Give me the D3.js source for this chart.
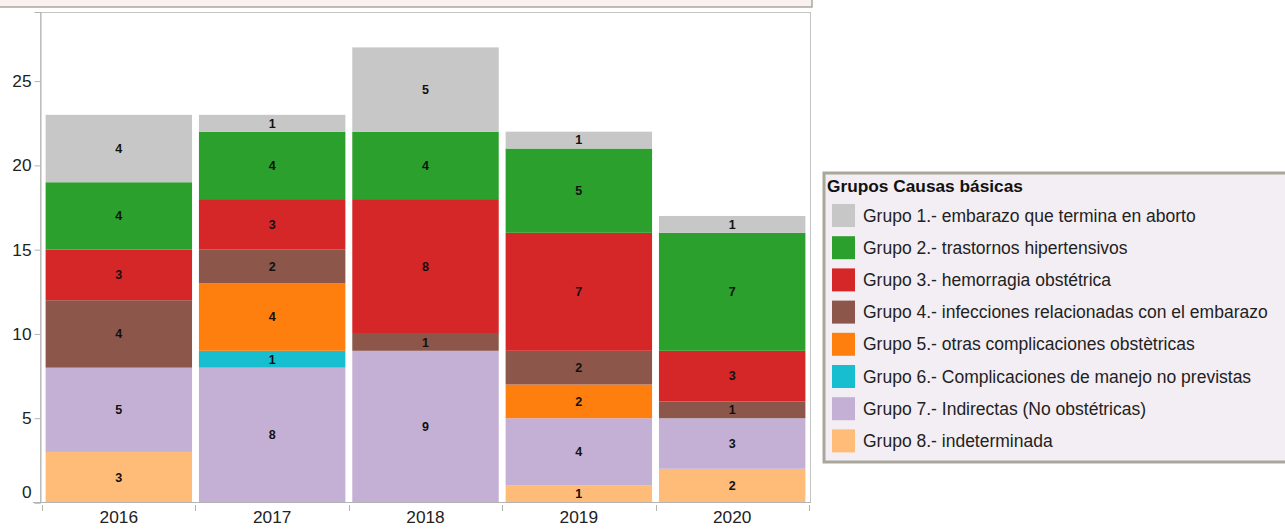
<!DOCTYPE html>
<html>
<head>
<meta charset="utf-8">
<script src="https://cdn.jsdelivr.net/npm/d3@7"></script>
<style>
  body { margin: 0; background: #fff; }
  text { font-family: "Liberation Sans", Arial, sans-serif; }
</style>
</head>
<body>
<div id="chart"></div>
<script>
// data
var years = ["2016", "2017", "2018", "2019", "2020"];
var groups = [
  "Grupo 1.- embarazo que termina en aborto",
  "Grupo 2.- trastornos hipertensivos",
  "Grupo 3.- hemorragia obstétrica",
  "Grupo 4.- infecciones relacionadas con el embarazo",
  "Grupo 5.- otras complicaciones obstètricas",
  "Grupo 6.- Complicaciones de manejo no previstas",
  "Grupo 7.- Indirectas (No obstétricas)",
  "Grupo 8.- indeterminada"
];
var colors = ["#c7c7c7", "#2ca02c", "#d62728", "#8c564b", "#ff7f0e", "#17becf", "#c5b0d5", "#ffbb78"];
// counts per group (same order as groups), one value per year
var g1 = [4, 1, 5, 1, 1];
var g2 = [4, 4, 4, 5, 7];
var g3 = [3, 3, 8, 7, 3];
var g4 = [4, 2, 1, 2, 1];
var g5 = [0, 4, 0, 2, 0];
var g6 = [0, 1, 0, 0, 0];
var g7 = [5, 8, 9, 4, 3];
var g8 = [3, 0, 0, 1, 2];
var yTicks = [0, 5, 10, 15, 20, 25];

var series = [g1, g2, g3, g4, g5, g6, g7, g8];

// build rows for d3.stack
var rows = years.map(function(y, i) {
  var r = {year: y};
  groups.forEach(function(g, k) { r[g] = series[k][i]; });
  return r;
});

// bottom of the stack is group 8
var stackKeys = groups.slice().reverse();
var stacked = d3.stack().keys(stackKeys)(rows);

var color = d3.scaleOrdinal().domain(groups).range(colors);

var svg = d3.select("#chart").append("svg")
  .attr("width", 1285)
  .attr("height", 530);

// top strip
svg.append("rect")
  .attr("x", -2).attr("y", -2)
  .attr("width", 814).attr("height", 9)
  .attr("fill", "#fbf0f0")
  .attr("stroke", "#a9a79c")
  .attr("stroke-width", 1.5);

var x = d3.scaleBand()
  .domain(years)
  .range([41, 810])
  .paddingInner(0.045)
  .paddingOuter(0.03);

var y = d3.scaleLinear()
  .domain([0, 29.1])
  .range([502.5, 12]);

// plot frame
svg.append("rect")
  .attr("x", 40.5).attr("y", 12.5)
  .attr("width", 770).attr("height", 490)
  .attr("fill", "none")
  .attr("stroke", "#c4c4c4");

// bars
var layer = svg.append("g").selectAll("g")
  .data(stacked)
  .enter().append("g")
    .attr("fill", function(d) { return color(d.key); });

layer.selectAll("rect")
  .data(function(d) { return d; })
  .enter().append("rect")
    .attr("x", function(d) { return x(d.data.year); })
    .attr("y", function(d) { return y(d[1]); })
    .attr("width", x.bandwidth())
    .attr("height", function(d) { return y(d[0]) - y(d[1]); });

// segment labels
layer.selectAll("text")
  .data(function(d) { return d.filter(function(s) { return s[1] - s[0] > 0; }); })
  .enter().append("text")
    .attr("x", function(d) { return x(d.data.year) + x.bandwidth() / 2; })
    .attr("y", function(d) { return y((d[0] + d[1]) / 2); })
    .attr("dy", "0.35em")
    .attr("text-anchor", "middle")
    .attr("font-size", "12.5px")
    .attr("font-weight", "bold")
    .attr("fill", "#111")
    .text(function(d) { return d[1] - d[0]; });

// y axis
var yAxis = svg.append("g")
  .attr("transform", "translate(40.5,0)")
  .call(d3.axisLeft(y).tickValues(yTicks).tickSize(6).tickPadding(3));
yAxis.select(".domain").attr("stroke", "#b4b4b4");
yAxis.selectAll(".tick line").attr("stroke", "#b4b4b4");
yAxis.selectAll(".tick text")
  .attr("font-size", "17.3px")
  .attr("font-family", "Liberation Sans, Arial, sans-serif")
  .attr("fill", "#222")
  .attr("dy", function(d) { return d === 0 ? "-0.3em" : "0.32em"; });

// x axis
var xAxis = svg.append("g")
  .attr("transform", "translate(0,502.5)")
  .call(d3.axisBottom(x).tickSize(0).tickPadding(8));
xAxis.select(".domain").attr("stroke", "#b4b4b4").attr("d", "M33,0H811");
xAxis.selectAll(".tick text")
  .attr("font-size", "17.3px")
  .attr("font-family", "Liberation Sans, Arial, sans-serif")
  .attr("fill", "#222");

// category boundary ticks
var half = (x.step() - x.bandwidth()) / 2;
var bounds = years.map(function(d) { return x(d) - half; });
bounds.push(x(years[years.length - 1]) + x.bandwidth() + half);
svg.append("g").selectAll("line")
  .data(bounds)
  .enter().append("line")
    .attr("x1", function(d) { return Math.round(d) + 0.5; })
    .attr("x2", function(d) { return Math.round(d) + 0.5; })
    .attr("y1", 505)
    .attr("y2", 511)
    .attr("stroke", "#b4b4b4");

// legend
var legend = svg.append("g");
legend.append("rect")
  .attr("x", 824).attr("y", 173)
  .attr("width", 470).attr("height", 289)
  .attr("fill", "#f3eef3")
  .attr("stroke", "#a9a79c")
  .attr("stroke-width", 3);

legend.append("text")
  .attr("x", 827).attr("y", 192)
  .attr("font-size", "17.3px")
  .attr("font-weight", "bold")
  .attr("fill", "#111")
  .text("Grupos Causas básicas");

var item = legend.selectAll(".item")
  .data(groups)
  .enter().append("g")
    .attr("class", "item")
    .attr("transform", function(d, i) { return "translate(832," + (204 + i * 32.2) + ")"; });

item.append("rect")
  .attr("width", 23).attr("height", 23)
  .attr("fill", function(d) { return color(d); });

item.append("text")
  .attr("x", 31).attr("y", 11.5)
  .attr("dy", "0.35em")
  .attr("font-size", "17.5px")
  .attr("fill", "#222")
  .text(function(d) { return d; });
</script>
</body>
</html>
